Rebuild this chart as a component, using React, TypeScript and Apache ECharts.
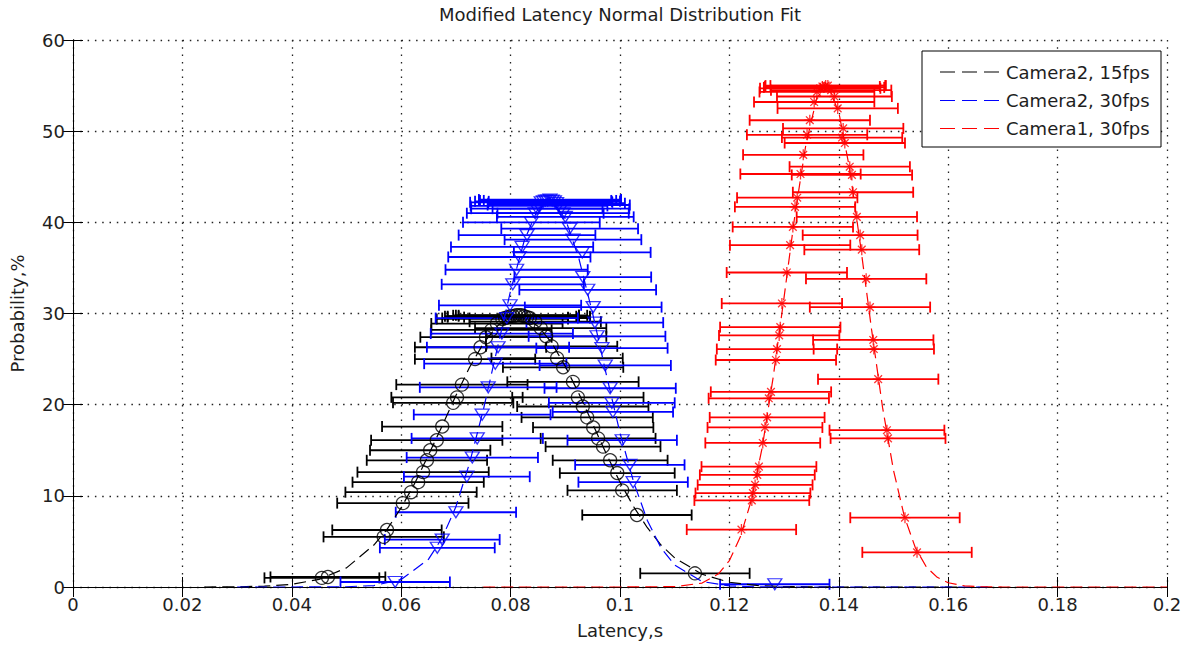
import React, { useEffect, useRef } from "react";
import * as echarts from "echarts";

// ---------- data ----------
const seriesNames = ["Camera2, 15fps", "Camera2, 30fps", "Camera1, 30fps"];
const seriesColors = ["#000000", "#0000ff", "#ff0000"];

// Camera2, 15fps: fitted curve
const cam2_15_fitX = [0.024, 0.03, 0.035, 0.04, 0.045, 0.05, 0.055, 0.0575, 0.06, 0.0625, 0.065, 0.0675, 0.07, 0.0725, 0.075, 0.0775, 0.08, 0.0825, 0.085, 0.0875, 0.09, 0.0925, 0.095, 0.0975, 0.1, 0.1025, 0.105, 0.1075, 0.11, 0.115, 0.12, 0.125, 0.13, 0.14, 0.162];
const cam2_15_fitY = [0, 0.02, 0.09, 0.29, 0.84, 2.1, 4.6, 6.4, 8.7, 11.4, 14.5, 17.7, 21.0, 24.1, 26.7, 28.6, 29.6, 29.6, 28.6, 26.8, 24.2, 21.2, 17.9, 14.6, 11.5, 8.8, 6.5, 4.6, 3.2, 1.4, 0.52, 0.17, 0.05, 0, 0];
// Camera2, 15fps: measured points (latency, probability, half error)
const cam2_15_x = [0.0455, 0.0466, 0.0568, 0.0574, 0.0603, 0.0618, 0.0631, 0.064, 0.0647, 0.0653, 0.0665, 0.0675, 0.0695, 0.0702, 0.0711, 0.0735, 0.0745, 0.0755, 0.0765, 0.0775, 0.0785, 0.079, 0.0795, 0.08, 0.0805, 0.081, 0.0815, 0.082, 0.0825, 0.083, 0.0835, 0.0845, 0.0855, 0.0865, 0.0875, 0.0885, 0.0896, 0.0914, 0.0923, 0.0932, 0.094, 0.0951, 0.096, 0.0969, 0.0982, 0.0995, 0.1004, 0.1031, 0.1137];
const cam2_15_y = [1.0, 1.1, 5.5, 6.25, 9.2, 10.4, 11.5, 12.6, 13.9, 15.0, 16.1, 17.6, 20.2, 20.8, 22.2, 25.0, 26.3, 27.4, 28.2, 28.9, 29.4, 29.5, 29.6, 29.7, 29.7, 29.8, 29.8, 29.8, 29.7, 29.6, 29.5, 29.1, 28.4, 27.5, 26.4, 25.1, 24.1, 22.5, 20.8, 19.8, 18.6, 17.5, 16.3, 15.4, 13.9, 12.5, 10.6, 7.9, 1.5];
const cam2_15_err = [0.0105, 0.0105, 0.011, 0.01, 0.012, 0.012, 0.012, 0.012, 0.011, 0.011, 0.012, 0.011, 0.011, 0.012, 0.012, 0.011, 0.012, 0.012, 0.011, 0.012, 0.012, 0.0115, 0.011, 0.012, 0.012, 0.0115, 0.011, 0.012, 0.012, 0.0115, 0.011, 0.012, 0.012, 0.011, 0.012, 0.012, 0.011, 0.012, 0.012, 0.012, 0.012, 0.011, 0.0105, 0.0105, 0.0105, 0.0105, 0.01, 0.01, 0.01];

// Camera2, 30fps: fitted curve
const cam2_30_fitX = [0.03, 0.04, 0.05, 0.055, 0.06, 0.065, 0.0675, 0.07, 0.0725, 0.075, 0.0775, 0.08, 0.0825, 0.085, 0.0875, 0.09, 0.0925, 0.095, 0.0975, 0.1, 0.1025, 0.105, 0.1075, 0.11, 0.115, 0.12, 0.125, 0.13, 0.145, 0.168];
const cam2_30_fitY = [0, 0, 0.03, 0.16, 0.82, 3.05, 5.4, 8.8, 13.6, 19.4, 26.0, 32.5, 38.0, 41.5, 42.35, 40.4, 36.0, 30.0, 23.3, 16.9, 11.5, 7.3, 4.3, 2.4, 0.6, 0.12, 0.02, 0, 0, 0];
// Camera2, 30fps: measured points
const cam2_30_x = [0.0589, 0.0666, 0.0675, 0.07, 0.072, 0.073, 0.0739, 0.0748, 0.0759, 0.0772, 0.0777, 0.0784, 0.0793, 0.0799, 0.0804, 0.0811, 0.0816, 0.0821, 0.083, 0.0838, 0.0845, 0.0848, 0.0852, 0.0856, 0.086, 0.0864, 0.0868, 0.0872, 0.0876, 0.088, 0.0884, 0.0888, 0.0892, 0.0896, 0.09, 0.0908, 0.0914, 0.0931, 0.0932, 0.0941, 0.0951, 0.0954, 0.0958, 0.0967, 0.0973, 0.0982, 0.0985, 0.0987, 0.1004, 0.1018, 0.1024, 0.1283];
const cam2_30_y = [0.55, 4.3, 5.2, 8.2, 12.1, 14.2, 16.3, 18.9, 21.9, 24.5, 26.3, 27.8, 29.5, 30.9, 33.2, 34.8, 36.2, 37.3, 38.6, 40.0, 41.0, 41.5, 41.8, 42.2, 42.3, 42.4, 42.4, 42.5, 42.4, 42.3, 42.1, 41.9, 41.5, 41.0, 40.6, 39.3, 38.1, 36.7, 34.0, 32.6, 30.7, 29.0, 27.5, 26.2, 24.3, 21.8, 20.2, 19.2, 16.1, 13.4, 11.5, 0.3];
const cam2_30_err = [0.01, 0.0105, 0.0105, 0.011, 0.0115, 0.012, 0.012, 0.0125, 0.0125, 0.013, 0.013, 0.013, 0.013, 0.013, 0.013, 0.013, 0.013, 0.013, 0.0125, 0.0125, 0.0125, 0.012, 0.0125, 0.013, 0.0125, 0.012, 0.0125, 0.013, 0.0125, 0.012, 0.0125, 0.013, 0.0125, 0.012, 0.0125, 0.0125, 0.0125, 0.0125, 0.0125, 0.0125, 0.0125, 0.0125, 0.0125, 0.012, 0.012, 0.012, 0.0115, 0.011, 0.01, 0.01, 0.01, 0.01];

// Camera1, 30fps: fitted curve
const cam1_30_fitX = [0.075, 0.09, 0.1, 0.11, 0.115, 0.118, 0.12, 0.122, 0.124, 0.126, 0.128, 0.13, 0.132, 0.134, 0.136, 0.138, 0.14, 0.142, 0.144, 0.146, 0.148, 0.15, 0.152, 0.154, 0.156, 0.158, 0.16, 0.163, 0.166, 0.17, 0.185, 0.2];
const cam1_30_fitY = [0, 0, 0, 0.04, 0.43, 1.45, 2.9, 5.5, 9.5, 15.3, 23.0, 31.8, 40.9, 48.6, 53.7, 54.9, 52.1, 45.8, 37.3, 28.2, 19.7, 12.8, 7.7, 4.3, 2.2, 1.06, 0.47, 0.12, 0.03, 0, 0, 0];
// Camera1, 30fps: measured points
const cam1_30_x = [0.1222, 0.1241, 0.1243, 0.1247, 0.1251, 0.1254, 0.1261, 0.1265, 0.1269, 0.1272, 0.1276, 0.1285, 0.1287, 0.1291, 0.1293, 0.1296, 0.1305, 0.1311, 0.1316, 0.132, 0.1324, 0.133, 0.1335, 0.1342, 0.1347, 0.1355, 0.136, 0.1366, 0.137, 0.1373, 0.1376, 0.138, 0.1386, 0.1392, 0.1398, 0.1406, 0.1408, 0.1411, 0.142, 0.1424, 0.1426, 0.1433, 0.1439, 0.1442, 0.145, 0.1457, 0.1463, 0.1464, 0.1472, 0.1488, 0.149, 0.1521, 0.1543];
const cam1_30_y = [6.3, 9.5, 10.3, 11.2, 12.3, 13.2, 15.8, 17.5, 18.6, 20.7, 21.4, 24.9, 26.1, 27.6, 28.5, 31.1, 34.5, 37.5, 39.5, 41.7, 42.7, 45.3, 47.4, 49.6, 51.2, 53.2, 54.3, 54.7, 54.9, 54.8, 55.0, 55.0, 54.5, 53.8, 52.5, 49.3, 50.3, 48.7, 46.1, 45.2, 43.3, 40.6, 38.6, 37.0, 33.8, 30.7, 27.1, 26.1, 22.8, 17.2, 16.3, 7.6, 3.8];
const cam1_30_err = [0.01, 0.0105, 0.0105, 0.0105, 0.0105, 0.0105, 0.0105, 0.0105, 0.0105, 0.011, 0.011, 0.011, 0.011, 0.011, 0.011, 0.011, 0.011, 0.011, 0.011, 0.011, 0.011, 0.011, 0.011, 0.011, 0.011, 0.011, 0.0105, 0.011, 0.0105, 0.011, 0.011, 0.0105, 0.011, 0.0105, 0.011, 0.011, 0.011, 0.011, 0.011, 0.011, 0.011, 0.011, 0.0105, 0.0105, 0.011, 0.011, 0.011, 0.011, 0.011, 0.0105, 0.0105, 0.01, 0.01];

const titleText = "Modified Latency Normal Distribution Fit";
const xAxisName = "Latency,s";
const yAxisName = "Probability,%";

// ---------- helpers ----------
const FONT = "DejaVu Sans";
const TEXT_COLOR = "#1e1e1e";

const zip2 = (a: number[], b: number[]) => a.map((v, i) => [v, b[i]]);
const zip3 = (a: number[], b: number[], c: number[]) => a.map((v, i) => [v, b[i], c[i]]);

const errRender = (color: string) => (params: any, api: any) => {
  const x = api.value(0);
  const y = api.value(1);
  const e = api.value(2);
  const p1 = api.coord([x - e, y]);
  const p2 = api.coord([x + e, y]);
  const cap = 5.5;
  const style = { stroke: color, lineWidth: 1.8, fill: "none" };
  return {
    type: "group",
    children: [
      { type: "line", shape: { x1: p1[0], y1: p1[1], x2: p2[0], y2: p2[1] }, style },
      { type: "line", shape: { x1: p1[0], y1: p1[1] - cap, x2: p1[0], y2: p1[1] + cap }, style },
      { type: "line", shape: { x1: p2[0], y1: p2[1] - cap, x2: p2[0], y2: p2[1] + cap }, style },
    ],
  };
};

const asteriskPath = "path://M0,-1L0,1M-1,0L1,0M-0.7,-0.7L0.7,0.7M-0.7,0.7L0.7,-0.7";

function buildGroup(
  idx: number,
  fitX: number[],
  fitY: number[],
  px: number[],
  py: number[],
  pe: number[],
  symbol: string,
  symbolSize: any,
  symbolRotate: number
) {
  const color = seriesColors[idx];
  return [
    {
      name: seriesNames[idx] + " err",
      type: "custom",
      renderItem: errRender(color),
      data: zip3(px, py, pe),
      encode: { x: 0, y: 1 },
      silent: true,
    },
    {
      name: seriesNames[idx] + " pts",
      type: "scatter",
      data: zip2(px, py),
      symbol,
      symbolSize,
      symbolRotate,
      itemStyle: {
        color: "rgba(0,0,0,0)",
        borderColor: color,
        borderWidth: 1.3,
      },
      silent: true,
    },
    {
      name: seriesNames[idx],
      type: "line",
      data: zip2(fitX, fitY),
      symbol: "none",
      lineStyle: { color, width: 1.2, type: [12, 6] },
      silent: true,
    },
  ];
}

export default function App() {
  const ref = useRef<HTMLDivElement>(null);

  useEffect(() => {
    if (!ref.current) return;
    const chart = echarts.init(ref.current, undefined, { renderer: "svg" });

    const gridLine = { show: true, lineStyle: { color: "#222", width: 1.3, type: [1.5, 5.8] } };
    const axisLine = { show: true, lineStyle: { color: "#000", width: 1 } };
    const tick = { show: true, inside: true, length: 10, lineStyle: { color: "#000", width: 1 } };
    const label = { color: TEXT_COLOR, fontSize: 18, fontFamily: FONT };

    const legendRows = [72, 100.5, 128.5];
    const legendGraphic: any[] = [
      {
        type: "rect",
        shape: { x: 922, y: 51, width: 239, height: 96 },
        style: { fill: "#fff", stroke: "#000", lineWidth: 1 },
        z: 100,
      },
    ];
    seriesNames.forEach((n, i) => {
      legendGraphic.push({
        type: "line",
        shape: { x1: 940, y1: legendRows[i], x2: 999, y2: legendRows[i] },
        style: { stroke: seriesColors[i], lineWidth: 1.2, lineDash: [15, 7] },
        z: 101,
      });
      legendGraphic.push({
        type: "text",
        x: 1006,
        y: legendRows[i],
        style: {
          text: n,
          fontSize: 18,
          fontFamily: FONT,
          fill: TEXT_COLOR,
          verticalAlign: "middle",
          textVerticalAlign: "middle",
        },
        z: 101,
      });
    });

    const option: any = {
      animation: false,
      backgroundColor: "#fff",
      title: {
        text: titleText,
        left: 620,
        top: 5,
        textAlign: "center",
        padding: 0,
        textStyle: { color: TEXT_COLOR, fontSize: 18, fontWeight: "normal", fontFamily: FONT },
      },
      grid: { left: 73, right: 27, top: 40, bottom: 59, containLabel: false },
      xAxis: [
        {
          type: "value",
          min: 0,
          max: 0.2,
          interval: 0.02,
          position: "bottom",
          axisLine,
          axisTick: tick,
          splitLine: gridLine,
          axisLabel: { ...label, margin: 8, showMinLabel: true, showMaxLabel: true },
          name: xAxisName,
          nameLocation: "middle",
          nameGap: 34,
          nameTextStyle: { ...label },
        },
        {
          type: "value",
          min: 0,
          max: 0.2,
          interval: 0.02,
          position: "top",
          axisLine,
          axisTick: tick,
          splitLine: { show: false },
          axisLabel: { show: false },
        },
      ],
      yAxis: [
        {
          type: "value",
          min: 0,
          max: 60,
          interval: 10,
          position: "left",
          axisLine,
          axisTick: tick,
          splitLine: gridLine,
          axisLabel: { ...label, margin: 8 },
          name: yAxisName,
          nameLocation: "middle",
          nameGap: 47,
          nameTextStyle: { ...label },
        },
        {
          type: "value",
          min: 0,
          max: 60,
          interval: 10,
          position: "right",
          axisLine,
          axisTick: tick,
          splitLine: { show: false },
          axisLabel: { show: false },
        },
      ],
      series: [
        ...buildGroup(0, cam2_15_fitX, cam2_15_fitY, cam2_15_x, cam2_15_y, cam2_15_err, "circle", 13, 0),
        ...buildGroup(1, cam2_30_fitX, cam2_30_fitY, cam2_30_x, cam2_30_y, cam2_30_err, "triangle", [14, 11], 180),
        ...buildGroup(2, cam1_30_fitX, cam1_30_fitY, cam1_30_x, cam1_30_y, cam1_30_err, asteriskPath, 11, 0),
      ],
      graphic: legendGraphic,
    };

    chart.setOption(option);
    return () => {
      chart.dispose();
    };
  }, []);

  return (
    <div
      ref={ref}
      style={{ position: "fixed", left: 0, top: 0, width: 1194, height: 646, background: "#fff" }}
    />
  );
}
